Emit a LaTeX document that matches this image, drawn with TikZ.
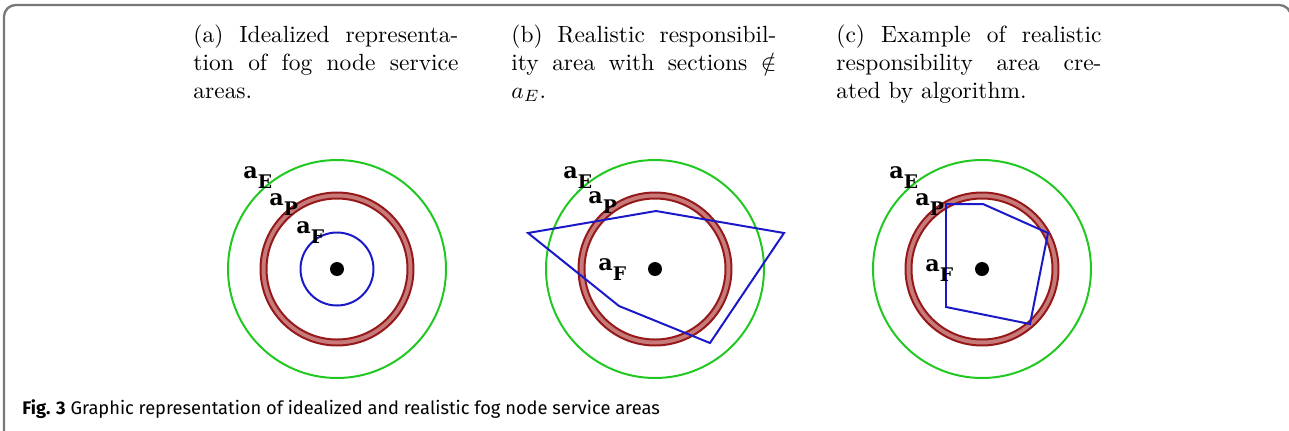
\documentclass[tikz,border=0pt]{standalone}
\usepackage{fontspec}
\usepackage{amsmath,amssymb}
\newfontfamily\lblfont{DejaVu Serif}
\newfontfamily\figfont{Fira Sans}
\definecolor{edgegreen}{RGB}{34,200,34}
\definecolor{ringred}{RGB}{150,25,25}
\definecolor{ringfill}{RGB}{200,122,122}
\definecolor{areablue}{RGB}{25,25,200}
\definecolor{framegray}{RGB}{120,120,120}
\newcommand{\alabel}[1]{{\lblfont\bfseries\fontsize{9.5}{11}\selectfont a\raisebox{-4.5pt}{\fontsize{8}{9}\selectfont #1}}}

\begin{document}
\begin{tikzpicture}[x=0.015cm, y=-0.015cm,
    subcap/.style={anchor=north west, inner sep=0pt, text width=3.975cm, align=justify, font=\normalsize},
    areaE/.style={draw=edgegreen, line width=0.85pt},
    areaP/.style={draw=ringred, line width=0.85pt},
    areaF/.style={draw=areablue, line width=0.85pt},
    lbl/.style={anchor=base west, inner sep=0pt}]

        \useasboundingbox (0, 0) rectangle (1289, 430);
        \draw[framegray, line width=1pt, rounded corners=5] (4, 440) -- (4, 5) -- (1291, 5) -- (1291, 440);

        % sub captions
        \node[subcap] (capa) at (193, 24) {(a) Idealized representa-\linebreak tion of fog node service\linebreak areas.};
        \node[subcap] (capb) at (511, 24) {(b) Realistic responsibil-\linebreak ity area with sections $\notin$\linebreak $a_E$.};
        \node[subcap] (capc) at (836, 24) {(c) Example of realistic\linebreak responsibility area cre-\linebreak ated by algorithm.};

        \coordinate (ca) at (337, 269);
        \coordinate (cb) at (655, 269);
        \coordinate (cc) at (982, 269);

        \foreach \c in {ca, cb, cc} {
            \draw[areaE] (\c) circle [radius=109];
            \fill[ringfill, even odd rule] (\c) circle [radius=76.5] (\c) circle [radius=70.5];
            \draw[areaP] (\c) circle [radius=76.5];
            \draw[areaP] (\c) circle [radius=70.5];
            \fill (\c) circle [radius=7];
        }

        % service areas
        \draw[areaF] (ca) circle [radius=36.5];
        \draw[areaF] (528, 233) -- (656, 211) -- (784, 233) -- (710, 343) -- (619, 306) -- cycle;
        \draw[areaF] (946, 204) -- (983, 204) -- (1048, 233) -- (1030, 324) -- (946, 307) -- cycle;

        % labels
        \node[lbl] (aEa) at (243, 178) {\alabel{E}};
        \node[lbl] (aPa) at (269, 205) {\alabel{P}};
        \node[lbl] (aFa) at (296, 233) {\alabel{F}};
        \node[lbl] (aEb) at (563, 178) {\alabel{E}};
        \node[lbl] (aPb) at (588, 203) {\alabel{P}};
        \node[lbl] (aFb) at (598, 270) {\alabel{F}};
        \node[lbl] (aEc) at (889, 178) {\alabel{E}};
        \node[lbl] (aPc) at (915, 205) {\alabel{P}};
        \node[lbl] (aFc) at (925, 271) {\alabel{F}};

        \node[anchor=base west, inner sep=0pt, font=\figfont\fontsize{7.8}{9}\selectfont] (fig) at (22, 414)
            {\textbf{Fig. 3} Graphic representation of idealized and realistic fog node service areas};

    \end{tikzpicture}
\end{document}
